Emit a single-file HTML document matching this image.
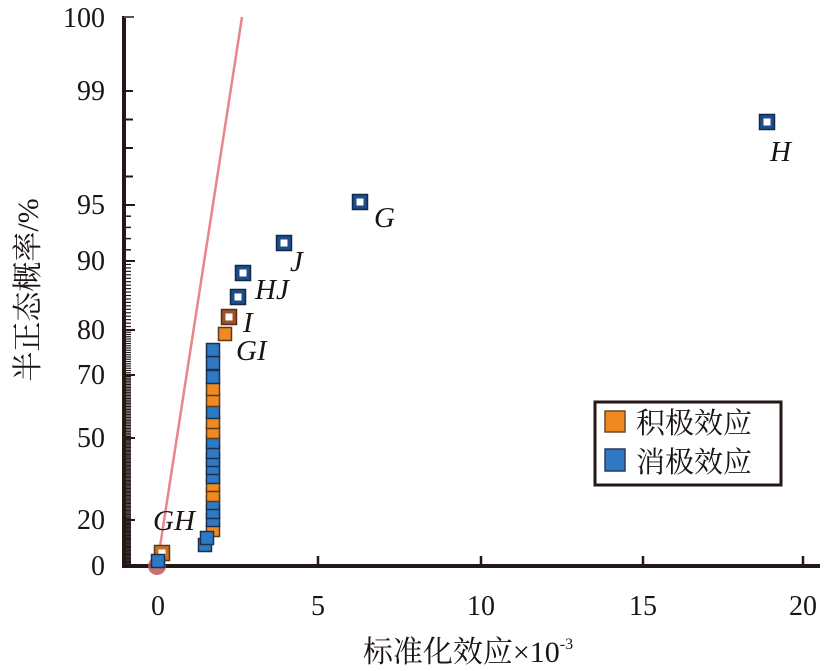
<!DOCTYPE html>
<html><head><meta charset="utf-8"><style>
html,body{margin:0;padding:0;background:#fff;}
svg{display:block;}
text{font-family:"Liberation Serif","Noto Serif CJK SC",serif;fill:#1a1414;}
</style></head><body>
<svg id="s" width="833" height="671" viewBox="0 0 833 671" xmlns="http://www.w3.org/2000/svg">
<g id="ticks" stroke="#231816" stroke-width="1.5"></g>
<line x1="124" y1="16" x2="124" y2="566" stroke="#231816" stroke-width="4"/>
<line x1="122" y1="566" x2="820" y2="566" stroke="#231816" stroke-width="4"/>
<line x1="124" y1="17" x2="134" y2="17" stroke="#555" stroke-width="2"/>
<g stroke="#231816" stroke-width="2.5">
<line x1="318" y1="566" x2="318" y2="556"/><line x1="481" y1="566" x2="481" y2="556"/>
<line x1="643" y1="566" x2="643" y2="556"/><line x1="803" y1="566" x2="803" y2="556"/>
</g>
<g font-size="28" text-anchor="end">
<text x="105" y="27">100</text><text x="105" y="100">99</text><text x="105" y="214">95</text>
<text x="105" y="270">90</text><text x="105" y="339">80</text><text x="105" y="384">70</text>
<text x="105" y="447">50</text><text x="105" y="529">20</text><text x="105" y="575">0</text>
</g>
<g font-size="28" text-anchor="middle">
<text x="158" y="615">0</text><text x="318" y="615">5</text><text x="481" y="615">10</text>
<text x="643" y="615">15</text><text x="803" y="615">20</text>
</g>
<text x="468" y="662" font-size="30" text-anchor="middle">标准化效应×10<tspan font-size="16" dy="-13">-3</tspan></text>
<text transform="translate(38,290) rotate(-90)" font-size="30" text-anchor="middle">半正态概率/%</text>
<line x1="157" y1="566" x2="242" y2="17" stroke="#e8868a" stroke-width="2.5"/>
<circle cx="157" cy="566" r="9" fill="#c0585a" opacity="0.85"/>
<g id="pts"></g>
<g font-size="29" font-style="italic">
<text x="770" y="161">H</text><text x="374" y="227">G</text><text x="290" y="271">J</text>
<text x="255" y="299">HJ</text><text x="243" y="332">I</text><text x="236" y="360">GI</text>
<text x="153" y="530">GH</text>
</g>
<rect x="595" y="402" width="186" height="83" fill="#fff" stroke="#231816" stroke-width="3"/>
<rect x="605" y="411" width="20" height="21" fill="#ef8a22" stroke="#6b4a2a" stroke-width="1.5"/>
<rect x="605" y="449" width="20" height="22" fill="#2f78c4" stroke="#2a3a5a" stroke-width="1.5"/>
<text x="636" y="433" font-size="29">积极效应</text>
<text x="636" y="472" font-size="29">消极效应</text>
</svg>
<script>
var ns="http://www.w3.org/2000/svg";
var kp=[[0,566],[20,520],[50,438],[70,375],[80,330],[90,261],[95,205],[99,91],[100,17]];
function py(p){for(var i=1;i<kp.length;i++){if(p<=kp[i][0]){var a=kp[i-1],b=kp[i];return a[1]+(b[1]-a[1])*(p-a[0])/(b[0]-a[0]);}}return 17;}
var t=document.getElementById("ticks");
function ln(x1,y1,x2,y2,w){var l=document.createElementNS(ns,"line");l.setAttribute("x1",x1);l.setAttribute("y1",y1);l.setAttribute("x2",x2);l.setAttribute("y2",y2);if(w)l.setAttribute("stroke-width",w);t.appendChild(l);}
for(var p=0.5;p<90;p+=0.5){ln(124,py(p),131,py(p),1.2);}
for(var p=90;p<95;p+=1){ln(124,py(p),131,py(p));}
[96,97,98,99].forEach(function(p){ln(124,py(p),133,py(p),2);});
[20,50,70,80,90,95].forEach(function(p){ln(124,py(p),135,py(p),2);});
var g=document.getElementById("pts");
function sq(x,y,c,s,hollow){var h=hollow?7.5:6.5;var r=document.createElementNS(ns,"rect");r.setAttribute("x",x-h);r.setAttribute("y",y-h);r.setAttribute("width",2*h);r.setAttribute("height",2*h);r.setAttribute("fill",c);r.setAttribute("stroke",s);r.setAttribute("stroke-width",1.5);g.appendChild(r);
if(hollow){var q=document.createElementNS(ns,"rect");q.setAttribute("x",x-3.5);q.setAttribute("y",y-3.5);q.setAttribute("width",7);q.setAttribute("height",7);q.setAttribute("fill","#fff");g.appendChild(q);}}
var B="#2f78c4",BS="#1e3050",O="#ef8a22",OS="#5a3a1a",NB="#1d4d8a";
var col=[[530,O],[520,B],[512,B],[503,B],[495,O],[485,O],[477,B],[468,B],[460,B],[452,B],[442,B],[432,O],[422,O],[412,B],[400,O],[389,O],[377,B],[363,B],[350,B]];
col.forEach(function(c){sq(213,c[0],c[1],c[1]==B?BS:OS);});
sq(205,545,B,BS);sq(207,538,B,BS);
sq(225,334,O,OS);
sq(229,317,"#a0522d","#5a2a1a",true);
sq(238,297,NB,"#10284a",true);sq(243,273,NB,"#10284a",true);sq(284,243,NB,"#10284a",true);
sq(360,202,NB,"#10284a",true);sq(767,122,NB,"#10284a",true);
sq(162,553,"#c8741e",OS,true);sq(158,561,B,BS);
</script>
</body></html>
